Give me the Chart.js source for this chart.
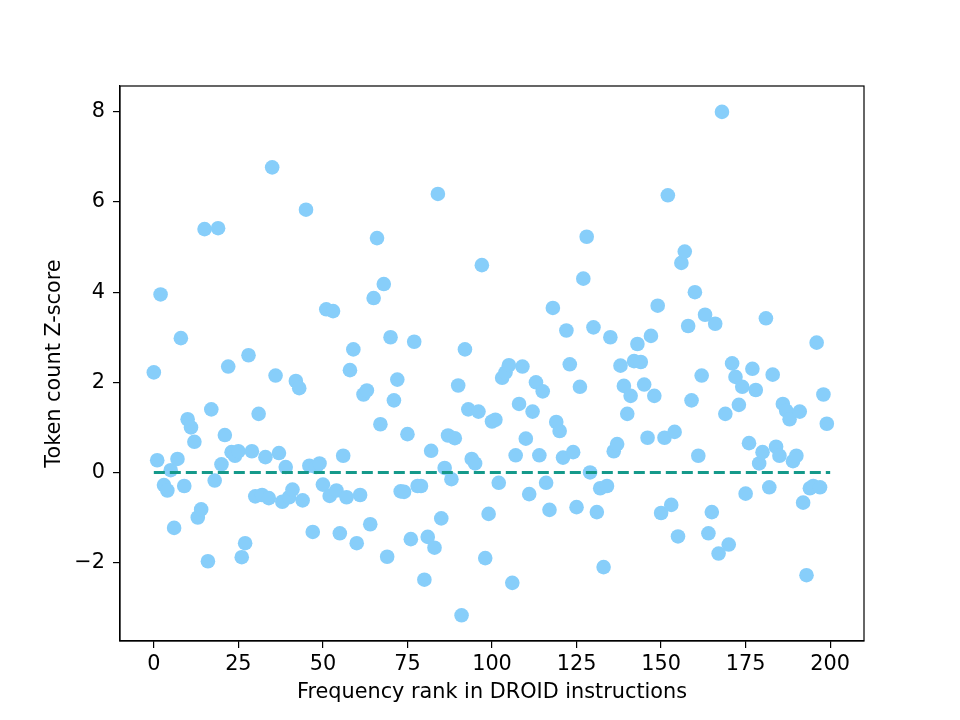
<!DOCTYPE html>
<html>
<head>
<meta charset="utf-8">
<title>Token count Z-score</title>
<script src="https://cdn.jsdelivr.net/npm/chart.js@4.4.1/dist/chart.umd.min.js"></script>
<style>
  html, body { margin: 0; padding: 0; background: #ffffff; }
  #zCanvas { display: block; }
</style>
</head>
<body>
<canvas id="zCanvas" width="960" height="720"></canvas>
<script>
// Z-score of the token count, one value per frequency rank (0..199)
var zScores = [
   2.22,  0.27,  3.95, -0.28, -0.40,  0.05, -1.23,  0.30,  2.98, -0.30,
   1.18,  1.00,  0.68, -1.00, -0.82,  5.40, -1.97,  1.40, -0.18,  5.42,
   0.18,  0.83,  2.35,  0.45,  0.37,  0.47, -1.88, -1.57,  2.60,  0.47,
  -0.53,  1.30, -0.50,  0.34, -0.57,  6.77,  2.15,  0.43, -0.65,  0.12,
  -0.55, -0.38,  2.03,  1.87, -0.62,  5.83,  0.15, -1.32,  0.12,  0.20,
  -0.27,  3.62, -0.52,  3.58, -0.40, -1.35,  0.37, -0.55,  2.27,  2.73,
  -1.57, -0.50,  1.73,  1.82, -1.15,  3.87,  5.20,  1.07,  4.18, -1.87,
   3.00,  1.60,  2.06, -0.42, -0.43,  0.85, -1.48,  2.90, -0.30, -0.30,
  -2.38, -1.43,  0.48, -1.67,  6.18, -1.02,  0.10,  0.82, -0.15,  0.76,
   1.93, -3.17,  2.73,  1.40,  0.30,  0.20,  1.35,  4.60, -1.90, -0.92,
   1.13,  1.17, -0.23,  2.10,  2.22,  2.38, -2.45,  0.38,  1.52,  2.35,
   0.75, -0.48,  1.35,  2.00,  0.38,  1.80, -0.23, -0.83,  3.65,  1.12,
   0.92,  0.33,  3.15,  2.40,  0.45, -0.77,  1.90,  4.30,  5.23,  0.00,
   3.22, -0.88, -0.35, -2.10, -0.30,  3.00,  0.47,  0.63,  2.37,  1.92,
   1.30,  1.70,  2.47,  2.85,  2.45,  1.95,  0.77,  3.03,  1.70,  3.70,
  -0.90,  0.77,  6.15, -0.72,  0.90, -1.42,  4.65,  4.90,  3.25,  1.60,
   4.00,  0.37,  2.15,  3.50, -1.35, -0.88,  3.30, -1.80,  8.00,  1.30,
  -1.60,  2.42,  2.12,  1.50,  1.90, -0.47,  0.65,  2.30,  1.83,  0.20,
   0.45,  3.42, -0.33,  2.17,  0.57,  0.37,  1.52,  1.37,  1.18,  0.25,
   0.37,  1.35, -0.67, -2.28, -0.35, -0.30,  2.88, -0.33,  1.73,  1.08
];

// dashed reference line at zero
var zeroLineX = [0, 200];
var zeroLineY = [0, 0];

// tick labels
var xTicks = [0, 25, 50, 75, 100, 125, 150, 175, 200];
var yTicks = [-2, 0, 2, 4, 6, 8];

var axisFont = { family: "'DejaVu Sans', sans-serif", size: 20.8 };

var points = zScores.map(function (v, i) {
    return { x: i, y: v };
});
var zeroLine = zeroLineX.map(function (x, i) {
    return { x: x, y: zeroLineY[i] };
});

// white page + black frame round the plot area (top and right spines)
var frame = {
    id: 'frame',
    beforeDraw: function (chart) {
        var c = chart.ctx;
        c.save();
        c.fillStyle = '#ffffff';
        c.fillRect(0, 0, chart.width, chart.height);
        c.restore();
    },
    afterDraw: function (chart) {
        var a = chart.chartArea;
        var c = chart.ctx;
        c.save();
        c.strokeStyle = '#000000';
        c.lineWidth = 1.2;
        c.strokeRect(a.left, a.top, a.right - a.left, a.bottom - a.top);
        c.restore();
    }
};

var minus = function (v) {
    return v < 0 ? '\u2212' + Math.abs(v) : String(v);
};

new Chart(document.getElementById('zCanvas'), {
    type: 'scatter',
    data: {
        datasets: [
            {
                type: 'line',
                data: zeroLine,
                borderColor: '#15998a',
                borderWidth: 3,
                borderDash: [11, 5],
                pointRadius: 0,
                fill: false,
                order: 0
            },
            {
                data: points,
                backgroundColor: '#87cefa',
                borderWidth: 0,
                pointRadius: 7.3,
                pointHoverRadius: 7.3,
                order: 1
            }
        ]
    },
    options: {
        responsive: false,
        animation: false,
        layout: { padding: { left: 0, top: 86, right: 96, bottom: 0 } },
        plugins: {
            legend: { display: false },
            tooltip: { enabled: false }
        },
        scales: {
            x: {
                type: 'linear',
                min: -10,
                max: 210,
                afterFit: function (s) { s.height = 79; },
                afterBuildTicks: function (s) {
                    s.ticks = xTicks.map(function (v) { return { value: v }; });
                },
                grid: { drawOnChartArea: false, drawTicks: true, tickLength: 7, color: '#000000', lineWidth: 1.2 },
                border: { display: true, color: '#000000', width: 1.2 },
                ticks: { color: '#000000', font: axisFont, padding: 4, maxRotation: 0 },
                title: {
                    display: true,
                    text: 'Frequency rank in DROID instructions',
                    color: '#000000',
                    font: axisFont,
                    padding: { top: 0, bottom: 15 }
                }
            },
            y: {
                type: 'linear',
                min: -3.74,
                max: 8.575,
                afterFit: function (s) { s.width = 120; },
                afterBuildTicks: function (s) {
                    s.ticks = yTicks.map(function (v) { return { value: v }; });
                },
                grid: { drawOnChartArea: false, drawTicks: true, tickLength: 7, color: '#000000', lineWidth: 1.2 },
                border: { display: true, color: '#000000', width: 1.2 },
                ticks: { color: '#000000', font: axisFont, padding: 8, callback: minus },
                title: {
                    display: true,
                    text: 'Token count Z-score',
                    color: '#000000',
                    font: axisFont,
                    padding: { top: 42, bottom: 0 }
                }
            }
        }
    },
    plugins: [frame]
});
</script>
</body>
</html>
